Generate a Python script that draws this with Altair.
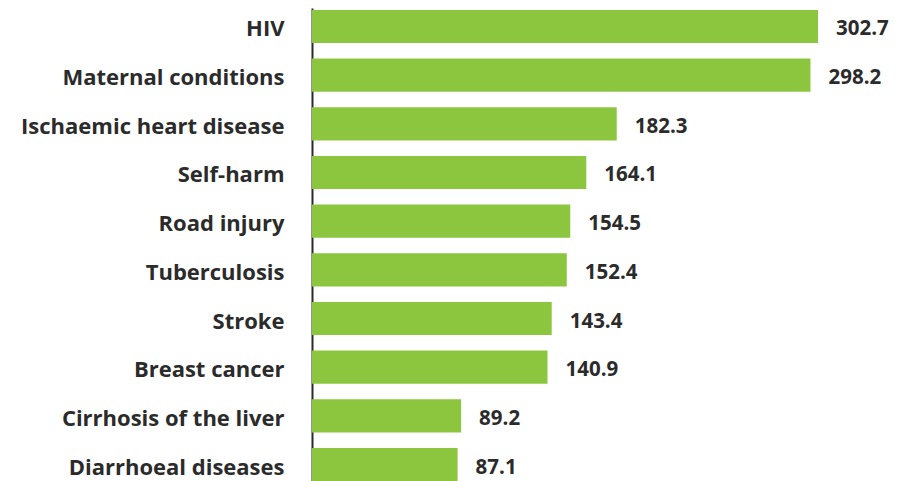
import altair as alt
import pandas as pd

causes = ["HIV", "Maternal conditions", "Ischaemic heart disease", "Self-harm",
          "Road injury", "Tuberculosis", "Stroke", "Breast cancer",
          "Cirrhosis of the liver", "Diarrhoeal diseases"]
values = [302.7, 298.2, 182.3, 164.1, 154.5, 152.4, 143.4, 140.9, 89.2, 87.1]
labels = ["302.7", "298.2", "182.3", "164.1", "154.5", "152.4", "143.4", "140.9", "89.2", "87.1"]

df = pd.DataFrame({"cause": causes, "value": values, "label": labels})

FONT = "Open Sans"
TXT = "#2b2b2b"
GREEN = "#8CC63F"

y = alt.Y("cause:N", sort=causes, title=None,
          scale=alt.Scale(paddingInner=0.32, paddingOuter=0.04),
          axis=alt.Axis(domain=True, domainColor=TXT, domainWidth=2, ticks=False,
                        labelPadding=28, labelFontSize=22, labelFont=FONT,
                        labelFontWeight="bold", labelColor=TXT, labelLimit=400,
                        labelOffset=3, grid=False))
x = alt.X("value:Q", title=None, scale=alt.Scale(domain=[0, 302.7], nice=False, zero=True),
          axis=None)

bars = alt.Chart(df).mark_bar(color=GREEN).encode(x=x, y=y)
text = alt.Chart(df).mark_text(align="left", baseline="middle", dx=18, dy=3, fontSize=20.5,
                               font=FONT, fontWeight="bold", color=TXT).encode(
    x=x, y=y, text="label:N")

chart = (bars + text).properties(
    width=506, height=475,
    autosize=alt.AutoSizeParams(type="none"),
    padding={"left": 304, "top": 0, "right": 74, "bottom": 0},
    background="white",
).configure_view(stroke=None)

chart.save("out.html", embed_options={"renderer": "svg", "actions": False})
